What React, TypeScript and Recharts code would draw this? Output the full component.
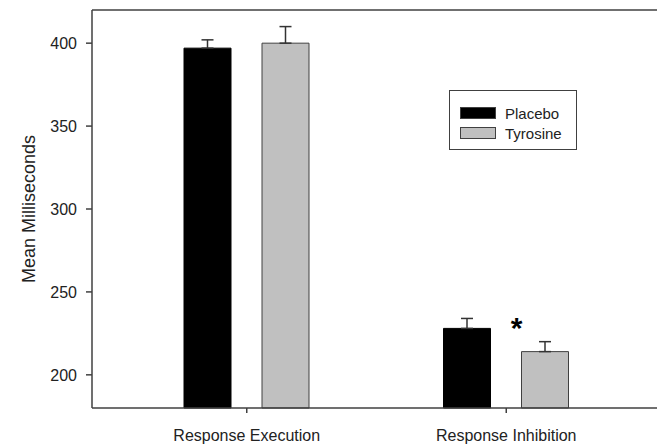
import { BarChart, Bar, XAxis, YAxis, ErrorBar, Legend, ReferenceLine } from "recharts";

const categories = ["Response Execution", "Response Inhibition"];
const placebo = [397, 228];
const tyrosine = [400, 214];
const placeboErr = [5, 6];
const tyrosineErr = [10, 6];
const significant = [false, true];
const yTicks = [200, 250, 300, 350, 400];

const data = categories.map((name, i) => ({
  name,
  placebo: placebo[i],
  tyrosine: tyrosine[i],
  placeboErr: [0, placeboErr[i]],
  tyrosineErr: [0, tyrosineErr[i]],
}));

const font = '"Liberation Sans", Arial, sans-serif';
const axisColor = "#404040";

function LegendBox({ payload }: any) {
  return (
    <div style={{ border: `1.5px solid ${axisColor}`, width: 128, height: 60, boxSizing: "border-box",
      padding: "12px 0 0 10px", fontFamily: font, fontSize: 15, color: "#222", background: "#fff" }}>
      {(payload || []).map((p: any) => (
        <div key={p.value} style={{ display: "flex", alignItems: "center", height: 20 }}>
          <span style={{ display: "inline-block", width: 36, height: 12, background: p.color,
            border: `1px solid ${axisColor}`, boxSizing: "border-box", marginRight: 9 }} />
          {p.value}
        </div>
      ))}
    </div>
  );
}

export default function App() {
  return (
    <div style={{ position: "absolute", left: 0, top: 0 }}>
      <BarChart width={657} height={445} data={data} margin={{ top: 10, right: 0, bottom: 0, left: 0 }}
        barSize={47} barGap={31}>
        <XAxis dataKey="name" padding={{ left: 25, right: 21 }} height={37}
          stroke={axisColor} strokeWidth={1.5} tickSize={5} tickMargin={17}
          tick={{ fill: "#222", fontSize: 16, fontFamily: font }} />
        <YAxis domain={[180, 420]} ticks={yTicks} width={92} stroke={axisColor} strokeWidth={1.5}
          tickSize={6} tickMargin={9} tick={{ fill: "#222", fontSize: 16, fontFamily: font }}
          label={{
            content: ({ viewBox }: any) => {
              const cy = viewBox.y + viewBox.height / 2;
              return (
                <text transform={`translate(35, ${cy}) rotate(-90)`} textAnchor="middle"
                  fill="#222" fontSize={18} fontFamily={font}>Mean Milliseconds</text>
              );
            },
          }} />
        <ReferenceLine y={420} stroke={axisColor} strokeWidth={1.5} />
        <Legend layout="vertical" align="center" verticalAlign="middle" content={<LegendBox />}
          wrapperStyle={{ left: 449, top: 90, width: 128, height: 60 }} />
        <Bar dataKey="placebo" name="Placebo" fill="#000000" stroke="#000000" isAnimationActive={false}>
          <ErrorBar dataKey="placeboErr" width={6} stroke="#333" strokeWidth={1.5} />
        </Bar>
        <Bar dataKey="tyrosine" name="Tyrosine" fill="#c0c0c0" stroke={axisColor} strokeWidth={1}
          isAnimationActive={false}
          label={(props: any) =>
            significant[props.index] ? (
              <text key={`sig-${props.index}`} x={props.x - 5} y={props.y - 14} textAnchor="middle"
                fontSize={30} fontWeight="bold" fontFamily={font} fill="#000">*</text>
            ) : null
          }>
          <ErrorBar dataKey="tyrosineErr" width={6} stroke="#333" strokeWidth={1.5} />
        </Bar>
      </BarChart>
    </div>
  );
}
